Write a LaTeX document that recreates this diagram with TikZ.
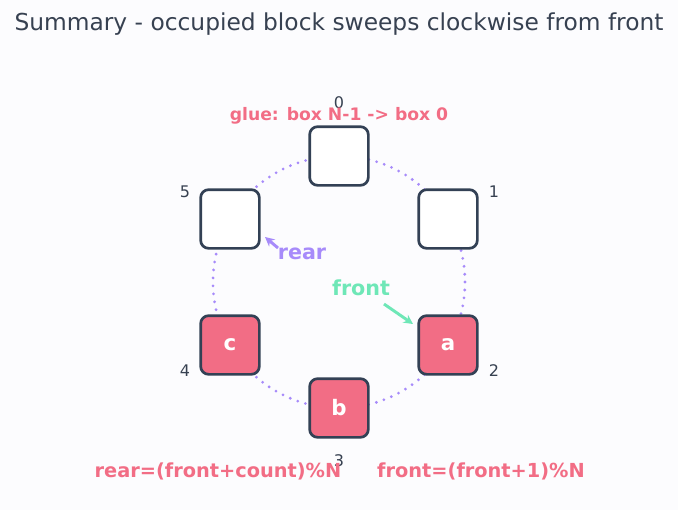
\documentclass[tikz,border=0pt]{standalone}
\usepackage{fontspec}
\setmainfont{DejaVu Sans}
\usetikzlibrary{positioning,arrows.meta}
\definecolor{bg}{HTML}{FCFCFE}
\definecolor{ink}{HTML}{374151}
\definecolor{edge}{HTML}{334155}
\definecolor{full}{HTML}{F26D85}
\definecolor{ring}{HTML}{A78BFA}
\definecolor{mint}{HTML}{6EE7B7}
\begin{document}
\begin{tikzpicture}[x=0.75pt,y=-0.75pt,
  slot/.style={rectangle,rounded corners=6pt,draw=edge,line width=2pt,minimum size=44pt,fill=white},
  used/.style={slot,fill=full,text=white,font=\bfseries\fontsize{16}{18}\selectfont},
  idx/.style={text=ink,font=\fontsize{12}{14}\selectfont},
  note/.style={text=full,font=\bfseries\fontsize{14.5}{16}\selectfont}]
\useasboundingbox[fill=bg] (0,0) rectangle (678,510);
\node at (339,24) [text=ink,font=\fontsize{17.5}{20}\selectfont] (title) {Summary - occupied block sweeps clockwise from front};
\coordinate (mid) at (339,282);
\draw [ring,line width=2.3pt,dash pattern=on 0pt off 6pt,line cap=round] (mid) circle (126);
\node at (339,156) [slot] (b0) {};
\node at (448,219) [slot] (b1) {};
\node at (448,345) [used] (b2) {a};
\node at (339,408) [used] (b3) {b};
\node at (230,345) [used] (b4) {c};
\node at (230,219) [slot] (b5) {};
\node at (339,103) [idx] (i0) {0};
\node at (494,192) [idx] (i1) {1};
\node at (494,371) [idx] (i2) {2};
\node at (339,461) [idx] (i3) {3};
\node at (185,371) [idx] (i4) {4};
\node at (185,192) [idx] (i5) {5};
\node at (339,116) [note,font=\bfseries\fontsize{12.9}{15}\selectfont] (glue) {glue: box N-1 -> box 0};
\node at (302,254) [text=ring,font=\bfseries\fontsize{15.5}{18}\selectfont] (rear) {rear};
\node at (361,288) [text=mint,font=\bfseries\fontsize{15.5}{18}\selectfont] (front) {front};
\coordinate (rs) at (278,248);
\coordinate (rt) at (265,237);
\coordinate (fs) at (384,304);
\coordinate (ft) at (413,324);
\draw [ring,line width=2.2pt,-{Stealth[length=7pt,width=7pt]}] (rs) -- (rt);
\draw [mint,line width=2.2pt,-{Stealth[length=7pt,width=7pt]}] (fs) -- (ft);
\node at (218,471) [note] (rf) {rear=(front+count)\%N};
\node at (481,471) [note] (ff) {front=(front+1)\%N};
\end{tikzpicture}
\end{document}
